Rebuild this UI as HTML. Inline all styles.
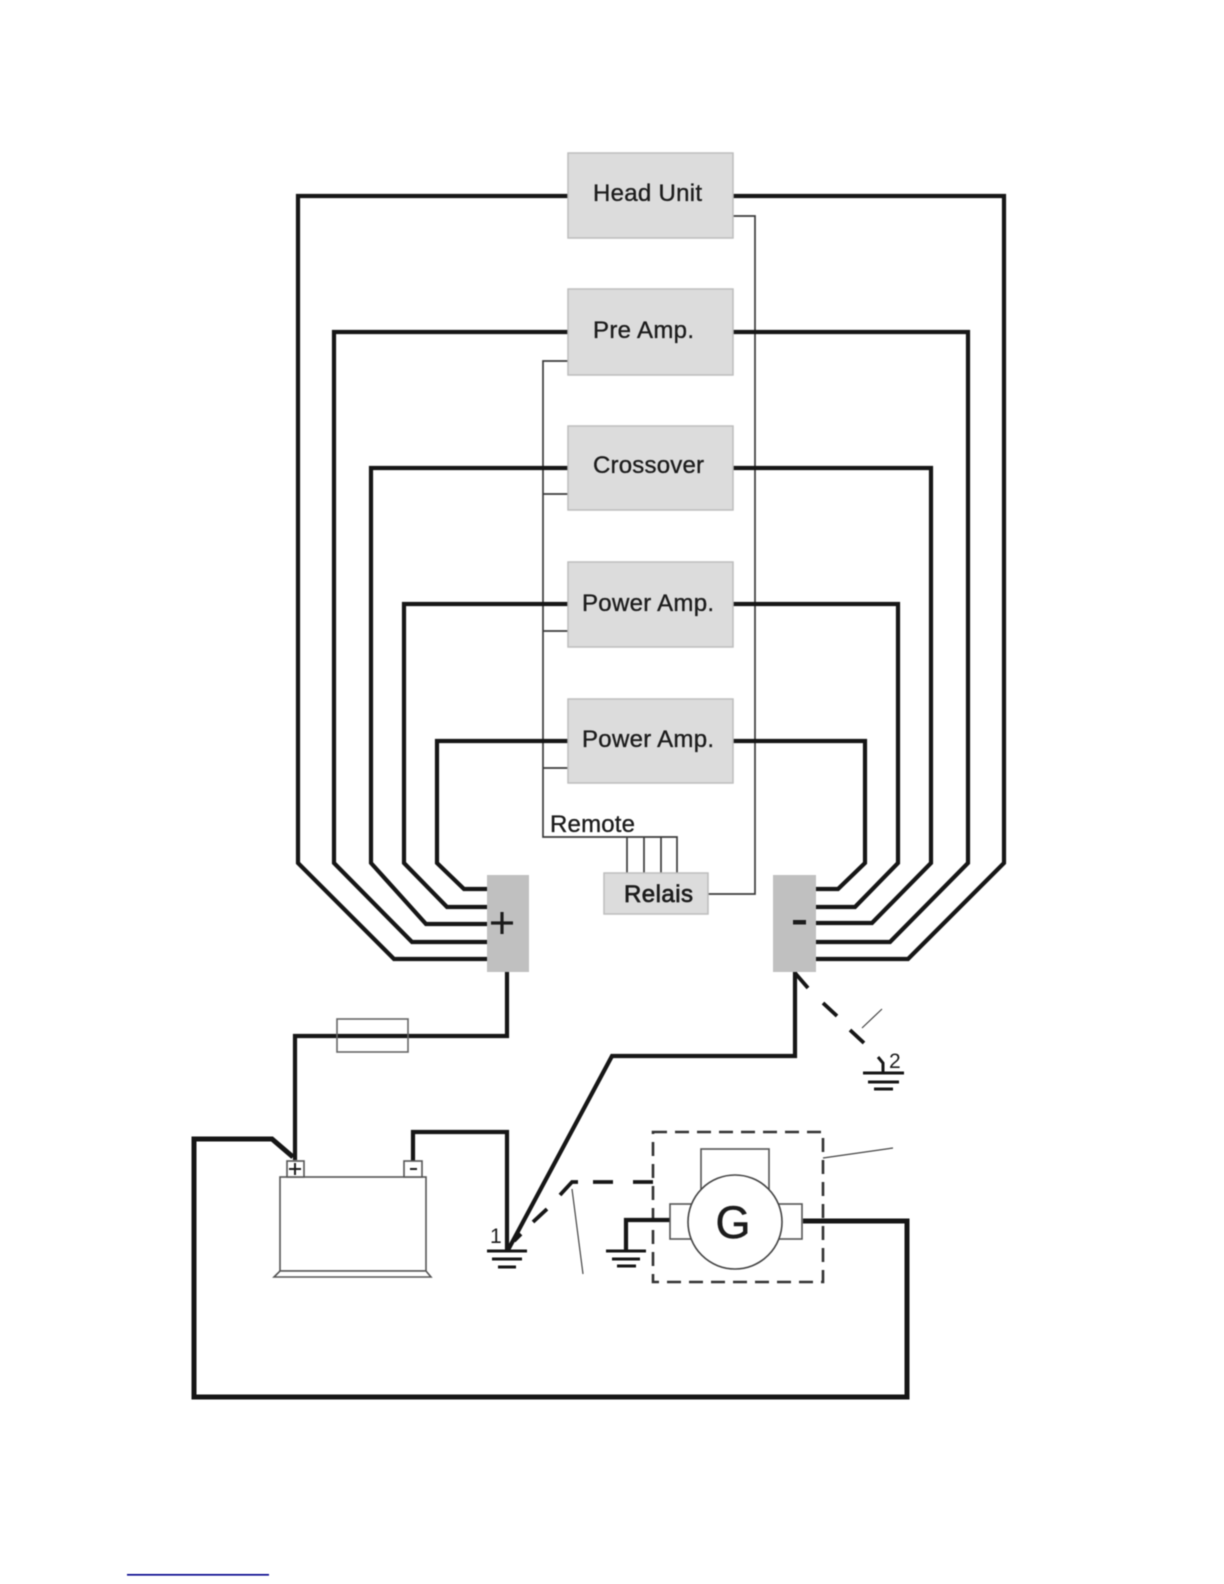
<!DOCTYPE html>
<html>
<head>
<meta charset="utf-8">
<style>
html,body{margin:0;padding:0;background:#fff;width:1224px;height:1584px;overflow:hidden}
svg{display:block;filter:blur(.4px)}
text{font-family:"Liberation Sans",sans-serif;fill:#1c1c1c}
.t{fill:none;stroke:#161616;stroke-width:4.2;stroke-linejoin:miter}
.h{fill:none;stroke:#161616;stroke-width:5;stroke-linejoin:miter}
.m{fill:none;stroke:#161616;stroke-width:3.8}
.n{fill:none;stroke:#3c3c3c;stroke-width:1.7}
.o{fill:#fff;stroke:#555;stroke-width:1.6}
.b{fill:#dcdcdc;stroke:#bdbdbd;stroke-width:1.5}
.g{fill:#c0c0c0}
.l{font-size:24px;stroke:#1c1c1c;stroke-width:.35}
.e{fill:none;stroke:#161616;stroke-width:3}
</style>
</head>
<body>
<svg width="1224" height="1584" viewBox="0 0 1224 1584" xmlns="http://www.w3.org/2000/svg">
<!-- thin control wires -->
<path class="n" d="M733 216H755V894H708"/>
<path class="n" d="M568 361H543V837H677V873"/>
<path class="n" d="M543 494H568M543 631H568M543 768H568"/>
<path class="n" d="M627 837V873M644 837V873M661 837V873"/>

<!-- left power wires -->
<path class="t" d="M568 196H298V863L394 959H487"/>
<path class="t" d="M568 332H334V863L412 942H487"/>
<path class="t" d="M568 468H371V863L426 924H487"/>
<path class="t" d="M568 604H404V863L447 907H487"/>
<path class="t" d="M568 741H437V863L464 889H487"/>
<!-- right power wires -->
<path class="t" d="M733 196H1004V863L908 959H816"/>
<path class="t" d="M733 332H968V863L890 942H816"/>
<path class="t" d="M733 468H931V863L872 923H816"/>
<path class="t" d="M733 604H898V863L855 907H816"/>
<path class="t" d="M733 741H865V863L838 889H816"/>

<!-- boxes -->
<rect class="b" x="568" y="153" width="165" height="85"/>
<rect class="b" x="568" y="289" width="165" height="86"/>
<rect class="b" x="568" y="426" width="165" height="84"/>
<rect class="b" x="568" y="562" width="165" height="85"/>
<rect class="b" x="568" y="699" width="165" height="84"/>
<rect class="b" x="604" y="873" width="104" height="41"/>
<rect class="g" x="487" y="875" width="42" height="97"/>
<rect class="g" x="773" y="875" width="43" height="97"/>

<text class="l" x="593" y="201" textLength="109">Head Unit</text>
<text class="l" x="593" y="338" textLength="101">Pre Amp.</text>
<text class="l" x="593" y="473" textLength="111">Crossover</text>
<text class="l" x="582" y="611" textLength="132">Power Amp.</text>
<text class="l" x="582" y="747" textLength="132">Power Amp.</text>
<text class="l" x="550" y="832" textLength="85">Remote</text>
<text class="l" x="624" y="902" textLength="69" style="stroke-width:.7">Relais</text>
<path d="M491 923H513M502 912V934" fill="none" stroke="#1c1c1c" stroke-width="3.2"/>
<rect x="793" y="920" width="13" height="4.5" fill="#1c1c1c"/>

<!-- plus feed and fuse -->
<path class="t" d="M507 972V1036H295V1160"/>
<rect x="337" y="1019" width="71" height="33" fill="none" stroke="#666" stroke-width="1.6"/>

<!-- minus feed -->
<path class="t" d="M795 972V1056H612L508 1250"/>
<path class="t" d="M413 1161V1132H507V1250"/>
<!-- long loop -->
<path class="h" d="M293 1157L272 1139H194V1397H907V1221H803"/>

<!-- dashed wires -->
<path class="m" d="M795 973L808 988M823 1003L837 1016M850 1030L864 1043"/>
<path class="m" d="M514 1241L521 1234M533 1222L547 1209M560 1195L572 1182H578M593 1182H613M633 1182H653"/>
<path d="M862 1028L882 1009M572 1189L583 1274M823 1158L893 1148" fill="none" stroke="#444" stroke-width="1.2"/>

<!-- ground 2 -->
<path d="M878 1057L883 1063V1073" fill="none" stroke="#161616" stroke-width="3"/>
<path class="e" d="M863 1073H904M868 1082H899M874 1089H893"/>
<text x="889" y="1068" font-size="21" fill="#333">2</text>

<!-- ground 1 -->
<path class="e" d="M487 1251H527M492 1259H522M498 1267H516"/>
<text x="490" y="1243" font-size="21" fill="#444">1</text>

<!-- battery -->
<rect x="280" y="1177" width="146" height="94" fill="#fff" stroke="#555" stroke-width="1.6"/>
<path d="M280 1271H426L431 1277H274Z" fill="#fff" stroke="#555" stroke-width="1.6"/>
<rect class="o" x="287" y="1161" width="17" height="16"/>
<rect class="o" x="404" y="1161" width="18" height="16"/>
<path d="M289 1169H301M295 1163V1175" stroke="#1c1c1c" stroke-width="2" fill="none"/>
<path d="M410 1169H417" stroke="#1c1c1c" stroke-width="2" fill="none"/>

<!-- generator -->
<rect x="653" y="1132" width="170" height="150" fill="none" stroke="#333" stroke-width="2.6" stroke-dasharray="14 8"/>
<path class="t" d="M670 1220H626V1251"/>
<path class="e" d="M606 1251H646M612 1259H640M617 1266H636"/>
<rect x="701" y="1149" width="68" height="50" fill="#fff" stroke="#555" stroke-width="1.6"/>
<rect x="670" y="1204" width="132" height="35" fill="#fff" stroke="#555" stroke-width="1.6"/>
<circle cx="735" cy="1222" r="47" fill="#fff" stroke="#444" stroke-width="1.6"/>
<text x="733" y="1238" font-size="45" text-anchor="middle" stroke="#1c1c1c" stroke-width=".5">G</text>

<!-- footnote rule -->
<rect x="127" y="1574" width="142" height="1.6" fill="#00008b"/>
</svg>
</body>
</html>
